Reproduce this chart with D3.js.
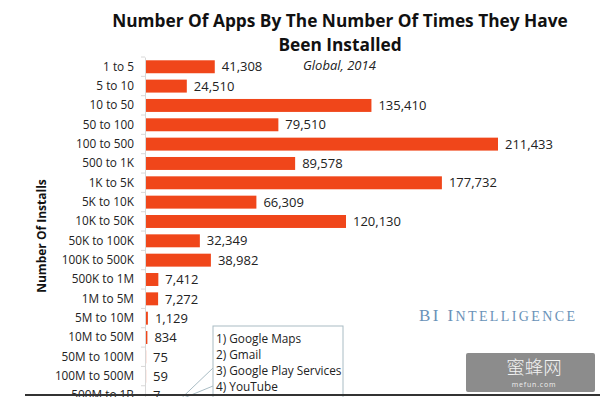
<!DOCTYPE html>
<html>
<head>
<meta charset="utf-8">
<script src="https://cdn.jsdelivr.net/npm/d3@7"></script>
<style>
  body { margin: 0; background: #fff; }
  svg { display: block; }
</style>
</head>
<body>
<div id="container"></div>
<script>
/**
 * CONSTANTS AND GLOBALS
 * */
const width = 600,
  height = 397,
  margin = { top: 57, left: 145 };

// install buckets, top to bottom
const categories = [
  "1 to 5", "5 to 10", "10 to 50", "50 to 100", "100 to 500", "500 to 1K",
  "1K to 5K", "5K to 10K", "10K to 50K", "50K to 100K", "100K to 500K",
  "500K to 1M", "1M to 5M", "5M to 10M", "10M to 50M", "50M to 100M",
  "100M to 500M", "500M to 1B"
];
const appCounts = [
  41308, 24510, 135410, 79510, 211433, 89578, 177732, 66309, 120130,
  32349, 38982, 7412, 7272, 1129, 834, 75, 59, 7
];
const titleLines = ["Number Of Apps By The Number Of Times They Have", "Been Installed"];
const calloutApps = ["1) Google Maps", "2) Gmail", "3) Google Play Services", "4) YouTube"];

const svg = d3.select("#container")
  .append("svg")
  .attr("width", width)
  .attr("height", height);

const xScale = d3.scaleLinear()
  .domain([0, d3.max(appCounts)])
  .range([margin.left, 497]);

const yScale = d3.scaleBand()
  .domain(categories)
  .range([margin.top, margin.top + 19.35 * categories.length])
  .paddingInner(0.33)
  .paddingOuter(0.17);

const data = categories.map((c, i) => ({ cat: c, value: appCounts[i] }));

// title
svg.selectAll("text.title")
  .data(titleLines)
  .join("text")
  .attr("class", "title")
  .attr("x", 340)
  .attr("y", (d, i) => 27 + i * 24)
  .attr("text-anchor", "middle")
  .attr("font-family", "'Open Sans', sans-serif")
  .attr("font-weight", "bold")
  .attr("font-size", 17.3)
  .attr("fill", "#111")
  .text(d => d);

svg.append("text")
  .attr("x", 303)
  .attr("y", 70)
  .attr("font-family", "'Open Sans', sans-serif")
  .attr("font-style", "italic")
  .attr("font-size", 13)
  .attr("fill", "#222")
  .text("Global, 2014");

// bars
svg.selectAll("rect.bar")
  .data(data)
  .join("rect")
  .attr("class", "bar")
  .attr("x", xScale(0) + 1)
  .attr("y", d => yScale(d.cat))
  .attr("width", d => Math.max(0, xScale(d.value) - xScale(0)))
  .attr("height", yScale.bandwidth())
  .attr("fill", "#f0461a");

// value labels
svg.selectAll("text.value")
  .data(data)
  .join("text")
  .attr("class", "value")
  .attr("x", d => xScale(d.value) + 8)
  .attr("y", d => yScale(d.cat) + yScale.bandwidth() / 2)
  .attr("dy", "0.36em")
  .attr("font-family", "'Open Sans', sans-serif")
  .attr("font-size", 13)
  .attr("fill", "#222")
  .text(d => d3.format(",")(d.value));

// category axis
const yAxis = d3.axisLeft(yScale).tickSize(0).tickPadding(11);
const axisG = svg.append("g")
  .attr("transform", `translate(${margin.left},0)`)
  .call(yAxis);
axisG.select(".domain").attr("stroke", "#d8d8d8");
axisG.selectAll("text")
  .attr("font-family", "'Open Sans', sans-serif")
  .attr("font-size", 11.8)
  .attr("fill", "#222");

// little tick marks between the rows
const step = yScale.step();
svg.selectAll("line.tick-mark")
  .data(d3.range(categories.length + 1))
  .join("line")
  .attr("class", "tick-mark")
  .attr("x1", margin.left - 4)
  .attr("x2", margin.left)
  .attr("y1", i => yScale.range()[0] + i * step)
  .attr("y2", i => yScale.range()[0] + i * step)
  .attr("stroke", "#d8d8d8");

svg.append("text")
  .attr("transform", "translate(46,236) rotate(-90)")
  .attr("text-anchor", "middle")
  .attr("font-family", "'Open Sans', sans-serif")
  .attr("font-weight", "bold")
  .attr("font-size", 12)
  .attr("fill", "#111")
  .text("Number Of Installs");

// BI Intelligence logo
const logo = svg.append("text")
  .attr("x", 419)
  .attr("y", 321)
  .attr("font-family", "'Liberation Serif', serif")
  .attr("fill", "#6a92b8")
  .attr("textLength", 156)
  .attr("lengthAdjust", "spacing");
logo.append("tspan").attr("font-size", 17).text("BI I");
logo.append("tspan").attr("font-size", 14).text("NTELLIGENCE");

// callout box for the top 4 apps
const callout = svg.append("g").attr("transform", "translate(213,326)");
callout.append("rect")
  .attr("width", 130)
  .attr("height", 80)
  .attr("fill", "#fff")
  .attr("stroke", "#a9bcc4");
callout.selectAll("text")
  .data(calloutApps)
  .join("text")
  .attr("x", 3)
  .attr("y", (d, i) => 17 + i * 16)
  .attr("font-family", "'Open Sans', sans-serif")
  .attr("font-size", 11.8)
  .attr("fill", "#222")
  .text(d => d);

const lastY = yScale(categories[categories.length - 1]) + yScale.bandwidth() / 2;
svg.selectAll("line.pointer")
  .data([[213, 368], [213, 386]])
  .join("line")
  .attr("class", "pointer")
  .attr("x1", d => d[0])
  .attr("y1", d => d[1])
  .attr("x2", 180)
  .attr("y2", lastY + 4)
  .attr("stroke", "#a9bcc4");

// bottom rule
svg.append("line")
  .attr("x1", 25).attr("x2", width)
  .attr("y1", 395).attr("y2", 395)
  .attr("stroke", "#333")
  .attr("stroke-width", 2);

// watermark
const wm = svg.append("g").attr("transform", "translate(466,353)");
wm.append("rect")
  .attr("width", 129)
  .attr("height", 39)
  .attr("rx", 2)
  .attr("fill", "#8c8c8c");
wm.append("text")
  .attr("x", 68).attr("y", 21)
  .attr("text-anchor", "middle")
  .attr("font-family", "'Noto Sans CJK SC', sans-serif")
  .attr("font-weight", 300)
  .attr("font-size", 18.5)
  .attr("fill", "#f2f2f2")
  .text("蜜蜂网");
wm.append("text")
  .attr("x", 68).attr("y", 34)
  .attr("text-anchor", "middle")
  .attr("font-family", "'Open Sans', sans-serif")
  .attr("font-size", 7)
  .attr("letter-spacing", 0.8)
  .attr("fill", "#eee")
  .text("mefun.com");
</script>
</body>
</html>
